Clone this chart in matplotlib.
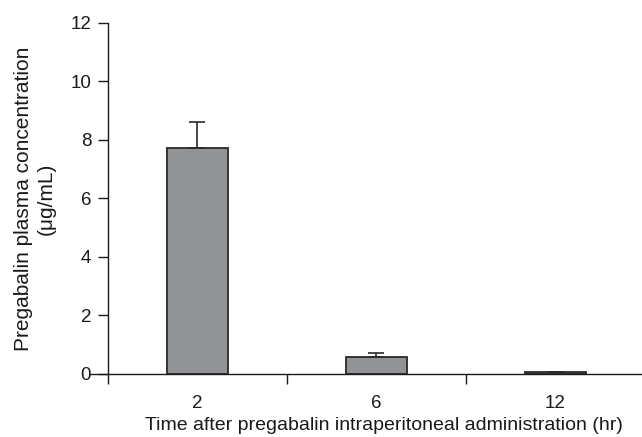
import numpy as np
import matplotlib.pyplot as plt
import matplotlib as mpl
mpl.rcParams['font.family'] = ['Liberation Sans', 'DejaVu Sans']

times = ['2', '6', '12']
conc = [7.72, 0.57, 0.06]
sem = [0.9, 0.14, 0.0]

fig = plt.figure(figsize=(6.42, 4.37), dpi=100)
ax = fig.add_axes((0.168, 0.1442, 0.8364, 0.8032))
pos = np.arange(len(times))
ax.bar(pos, conc, width=0.34, color='#929396', edgecolor='#2a2a2a', linewidth=1.3,
       yerr=[np.zeros(len(sem)), sem], error_kw=dict(ecolor='#2a2a2a', elinewidth=1.2, capsize=5.5, capthick=1.2))

ax.set_xlim(-0.5, 2.5)
ax.set_ylim(0, 12)
ax.set_yticks(np.arange(0, 13, 2))
ax.set_xticks(pos)
ax.set_xticklabels(times)
ax.set_xticks([-0.5, 0.5, 1.5], minor=True)
ax.tick_params(axis='x', which='major', length=0, labelsize=13.5, pad=15, colors='#1a1a1a')
ax.tick_params(axis='x', which='minor', length=7, width=1, colors='#1a1a1a')
ax.tick_params(axis='y', length=7, width=1, labelsize=13.5, pad=5, colors='#1a1a1a')
for s in ['top', 'right']:
    ax.spines[s].set_visible(False)
for s in ['left', 'bottom']:
    ax.spines[s].set_linewidth(1)
    ax.spines[s].set_color('#1a1a1a')
ax.spines['bottom'].set_bounds(-0.6, 2.5)

ax.set_xlabel('Time after pregabalin intraperitoneal administration (hr)', fontsize=14, color='#1a1a1a')
ax.xaxis.set_label_coords(0.514, -0.122)
ax.set_ylabel('Pregabalin plasma concentration\n(\u03bcg/mL)', fontsize=15, color='#1a1a1a', linespacing=1.25)
ax.yaxis.set_label_coords(-0.097, 0.5)

plt.savefig('out.png', dpi=100)
